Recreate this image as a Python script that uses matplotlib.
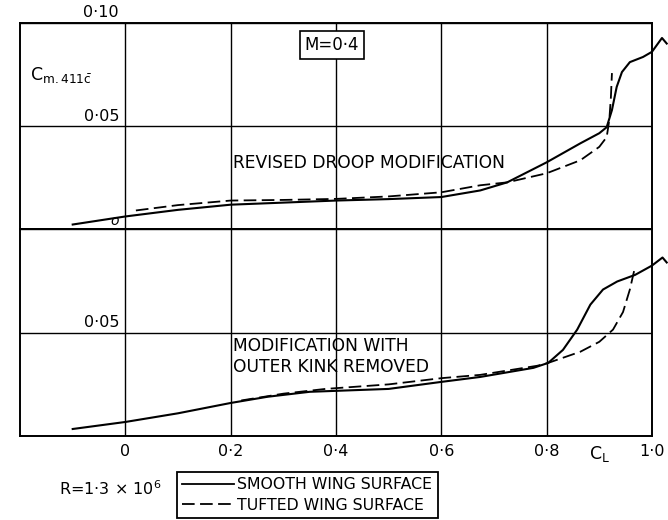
import matplotlib
matplotlib.use("Agg")
import matplotlib.pyplot as plt
from matplotlib.lines import Line2D

plt.rcParams['font.family'] = ['DejaVu Sans']

# --- data (C_L, Cm) ---
# upper panel: revised droop modification
up_smooth_cl = [-0.10, 0.0, 0.10, 0.20, 0.30, 0.40, 0.50, 0.60, 0.674, 0.725, 0.80, 0.864, 0.90,
                0.914, 0.924, 0.933, 0.943, 0.958, 0.983, 1.0, 1.019, 1.028]
up_smooth_cm = [0.0024, 0.0063, 0.0095, 0.012, 0.013, 0.014, 0.0147, 0.0157, 0.0189, 0.0228, 0.0325,
                0.0417, 0.0466, 0.0495, 0.0578, 0.069, 0.0762, 0.081, 0.0835, 0.086, 0.0927, 0.090]
up_tufted_cl = [0.02, 0.10, 0.20, 0.30, 0.40, 0.50, 0.60, 0.674, 0.725, 0.80, 0.864, 0.90, 0.914,
                0.919, 0.922, 0.924]
up_tufted_cm = [0.0092, 0.0118, 0.014, 0.0143, 0.0148, 0.0160, 0.018, 0.0214, 0.0228, 0.0272, 0.0335,
                0.040, 0.0447, 0.053, 0.064, 0.0757]

# lower panel: modification with outer kink removed
lo_smooth_cl = [-0.10, 0.0, 0.10, 0.20, 0.27, 0.35, 0.50, 0.60, 0.674, 0.775, 0.803, 0.831, 0.858,
                0.883, 0.907, 0.934, 0.968, 1.0, 1.02, 1.028]
lo_smooth_cm = [0.0034, 0.0068, 0.011, 0.016, 0.019, 0.0214, 0.0228, 0.0262, 0.0286, 0.033, 0.0354,
                0.0417, 0.0515, 0.0636, 0.0709, 0.0748, 0.078, 0.0825, 0.0864, 0.084]
lo_tufted_cl = [0.22, 0.30, 0.38, 0.50, 0.60, 0.674, 0.782, 0.803, 0.864, 0.90, 0.926, 0.945, 0.958,
                0.968]
lo_tufted_cm = [0.0172, 0.0205, 0.0228, 0.025, 0.028, 0.0296, 0.034, 0.0354, 0.0408, 0.0456, 0.0515,
                0.060, 0.0709, 0.082]

x_ticks = [0.0, 0.2, 0.4, 0.6, 0.8, 1.0]
x_tick_labels = ["0", "0·2", "0·4", "0·6", "0·8", "1·0"]
y_grid = [0.0, 0.05, 0.10]

fig = plt.figure(figsize=(6.68, 5.2), dpi=100)
ax_up = fig.add_axes([0.030, 0.5587, 0.946, 0.3973])
ax_lo = fig.add_axes([0.030, 0.1615, 0.946, 0.3973])

dash = (0, (7, 3))
for ax in (ax_up, ax_lo):
    ax.set_xlim(-0.2, 1.0)
    ax.set_ylim(0.0, 0.10)
    for x in x_ticks:
        ax.axvline(x, color="black", lw=1.0, zorder=1)
    for y in y_grid:
        ax.axhline(y, color="black", lw=1.0, zorder=1)
    for s in ax.spines.values():
        s.set_linewidth(1.4)
    ax.set_yticks([])
    ax.tick_params(length=0)

ax_up.set_xticks([])
ax_lo.set_xticks(x_ticks)
ax_lo.set_xticklabels(x_tick_labels, fontsize=11.5)
ax_lo.tick_params(axis="x", pad=6)

ax_up.plot(up_smooth_cl, up_smooth_cm, color="black", lw=1.5, clip_on=False, zorder=3)
ax_up.plot(up_tufted_cl, up_tufted_cm, color="black", lw=1.3, ls=dash, clip_on=False, zorder=3)
ax_lo.plot(lo_smooth_cl, lo_smooth_cm, color="black", lw=1.5, clip_on=False, zorder=3)
ax_lo.plot(lo_tufted_cl, lo_tufted_cm, color="black", lw=1.3, ls=dash, clip_on=False, zorder=3)

# axis value labels written beside the grid lines
ax_up.text(-0.012, 0.1012, "0·10", ha="right", va="bottom", fontsize=11.5, clip_on=False)
ax_up.text(-0.012, 0.0512, "0·05", ha="right", va="bottom", fontsize=11.5)
ax_up.text(-0.012, 0.0008, "o", ha="right", va="bottom", fontsize=10, style="italic")
ax_lo.text(-0.012, 0.0512, "0·05", ha="right", va="bottom", fontsize=11.5)
ax_lo.text(0.90, -0.004, r"$\mathrm{C_L}$", ha="center", va="top", fontsize=12.5, clip_on=False)

ax_up.text(-0.182, 0.0748, r"$\mathrm{C_{m.411\bar{c}}}$", ha="left", va="center", fontsize=12.5)
ax_up.text(0.392, 0.0893, "M=0·4", ha="center", va="center", fontsize=12,
           bbox=dict(boxstyle="square,pad=0.3", fc="white", ec="black", lw=1.2))

ax_up.text(0.205, 0.032, "REVISED DROOP MODIFICATION", ha="left", va="center", fontsize=12.3)
ax_lo.text(0.205, 0.0385, "MODIFICATION WITH\nOUTER KINK REMOVED", ha="left", va="center",
           fontsize=12.3, linespacing=1.15)

fig.text(0.165, 0.061, r"R=1·3 × 10$^6$", ha="center", va="center", fontsize=11.5)

handles = [Line2D([], [], color="black", lw=1.3),
           Line2D([], [], color="black", lw=1.3, ls=dash)]
leg = fig.legend(handles, ["SMOOTH WING SURFACE", "TUFTED WING SURFACE"],
                 loc="lower left", bbox_to_anchor=(0.262, 0.0), fontsize=11.3,
                 frameon=True, fancybox=False, edgecolor="black", framealpha=1,
                 handlelength=3.3, handletextpad=0.2, borderpad=0.35, labelspacing=0.35,
                 borderaxespad=0.1)
leg.get_frame().set_linewidth(1.3)

fig.savefig("out.png", dpi=100)
